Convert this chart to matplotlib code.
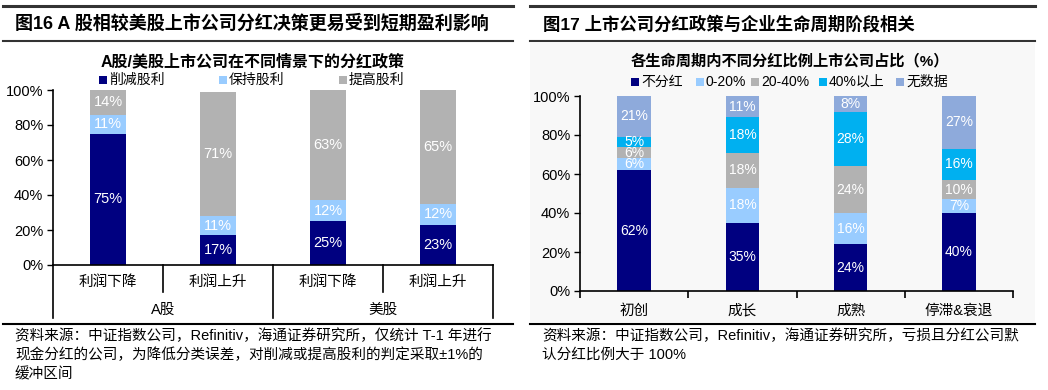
import matplotlib
matplotlib.use('Agg')
import matplotlib.pyplot as plt
from matplotlib.patches import Rectangle
from matplotlib.lines import Line2D

plt.rcParams['font.family'] = ['Liberation Sans', 'Noto Sans CJK SC', 'DejaVu Sans']

W, H = 1048, 390

# left chart: A股 / 美股 dividend policy
left_groups = ['A股', '美股']
left_cats = ['利润下降', '利润上升', '利润下降', '利润上升']
left_series = ['削减股利', '保持股利', '提高股利']
cut_div = [75, 17, 25, 23]
keep_div = [11, 11, 12, 12]
raise_div = [14, 71, 63, 65]
left_colors = ['#000080', '#99ccff', '#b2b2b2']

# right chart: life cycle stages
stages = ['初创', '成长', '成熟', '停滞&衰退']
right_series = ['不分红', '0-20%', '20-40%', '40%以上', '无数据']
no_div = [62, 35, 24, 40]
pct_0_20 = [6, 18, 16, 7]
pct_20_40 = [6, 18, 24, 10]
pct_40_up = [5, 18, 28, 16]
no_data = [21, 11, 8, 27]
right_colors = ['#000080', '#99ccff', '#b2b2b2', '#00b0f0', '#8eaadb']

yticks = [0, 20, 40, 60, 80, 100]


def fx(x):
    return x / W


def fy(y):
    return 1 - y / H


def rect(x0, y0, x1, y1):
    return [x0 / W, 1 - y1 / H, (x1 - x0) / W, (y1 - y0) / H]


fig = plt.figure(figsize=(W / 100, H / 100), dpi=100)


def hline(x0, x1, y, lw, color='#333333'):
    fig.add_artist(Line2D([fx(x0), fx(x1)], [fy(y), fy(y)], lw=lw, color=color))


def legend_row(names, colors, xs, y, fs=10):
    for name, c, x in zip(names, colors, xs):
        fig.add_artist(Rectangle((fx(x - 4), fy(y + 4)), 8 / W, 8 / H,
                                 transform=fig.transFigure, color=c, lw=0))
        fig.text(fx(x + 6), fy(y), name, fontsize=fs, va='center', ha='left')


def stacked(ax, series, colors, width, fs=10.5):
    x = list(range(len(series[0])))
    bottom = [0] * len(x)
    for vals, c in zip(series, colors):
        bars = ax.bar(x, vals, width, bottom=bottom, color=c, lw=0)
        for b, v, bt in zip(bars, vals, bottom):
            ax.text(b.get_x() + b.get_width() / 2, bt + v / 2, f'{v}%',
                    ha='center', va='center', color='white', fontsize=fs)
        bottom = [a + v for a, v in zip(bottom, vals)]
    ax.set_xlim(-0.5, len(x) - 0.5)
    ax.set_ylim(0, 100)
    ax.set_yticks(yticks)
    ax.set_yticklabels([f'{t}%' for t in yticks], fontsize=10.5)
    ax.tick_params(axis='y', direction='out', length=4, width=1, pad=3)
    for s in ['top', 'right']:
        ax.spines[s].set_visible(False)
    ax.spines['left'].set_linewidth(1.2)
    ax.spines['bottom'].set_linewidth(1.2)
    ax.patch.set_alpha(0)
    return x


# ---- panel frames ----
bg = Rectangle((fx(530), fy(322)), (1035 - 530) / W, (322 - 43) / H,
               transform=fig.transFigure, color='#f8f8f8', lw=0, zorder=-10)
fig.add_artist(bg)
hline(3, 513, 6, 2.2)
hline(530, 1035, 6, 2.2)
hline(3, 513, 41, 1.5)
hline(530, 1035, 41, 1.5)
hline(3, 513, 324, 1.5, 'black')
hline(530, 1035, 324, 1.5, 'black')

fig.text(fx(15), fy(24), '图16 A 股相较美股上市公司分红决策更易受到短期盈利影响',
         fontsize=13, fontweight='bold', va='center', ha='left')
fig.text(fx(543), fy(24), '图17 上市公司分红政策与企业生命周期阶段相关',
         fontsize=12.5, fontweight='bold', va='center', ha='left')

# ---- left chart ----
fig.text(fx(253), fy(61), 'A股/美股上市公司在不同情景下的分红政策',
         fontsize=11.5, fontweight='bold', va='center', ha='center')
legend_row(left_series, left_colors, [103, 223, 343], 80)

axl = fig.add_axes(rect(53, 90, 493, 265))
xl = stacked(axl, [cut_div, keep_div, raise_div], left_colors, 0.32)
axl.set_xticks([])
tr = axl.get_xaxis_transform()
for b in [-0.5, 1.5, 3.5]:
    axl.plot([b, b], [0, -0.303], transform=tr, color='black', lw=1.2, clip_on=False)
for b in [0.5, 2.5]:
    axl.plot([b, b], [0, -0.154], transform=tr, color='black', lw=1.2, clip_on=False)
for i, name in zip(xl, left_cats):
    axl.text(i, -0.097, name, transform=tr, ha='center', va='center', fontsize=10.5)
for i, name in enumerate(left_groups):
    axl.text(2 * i + 0.5, -0.257, name, transform=tr, ha='center', va='center', fontsize=10.5)

fig.text(fx(15), fy(336), '资料来源：中证指数公司，Refinitiv，海通证券研究所，仅统计 T-1 年进行',
         fontsize=10.5, va='center', ha='left')
fig.text(fx(15), fy(355), '现金分红的公司，为降低分类误差，对削减或提高股利的判定采取±1%的',
         fontsize=10.5, va='center', ha='left')
fig.text(fx(15), fy(374), '缓冲区间', fontsize=10.5, va='center', ha='left')

# ---- right chart ----
fig.text(fx(790), fy(61), '各生命周期内不同分红比例上市公司占比（%）',
         fontsize=11, fontweight='bold', va='center', ha='center')
legend_row(right_series, right_colors, [635, 700, 755, 823, 900], 82)

axr = fig.add_axes(rect(580, 96, 1013, 291))
xr = stacked(axr, [no_div, pct_0_20, pct_20_40, pct_40_up, no_data], right_colors, 0.31, fs=10)
axr.set_xticks(xr)
axr.set_xticklabels(stages, fontsize=10.5)
axr.tick_params(axis='x', which='major', length=0, pad=9)
axr.set_xticks([-0.5, 0.5, 1.5, 2.5, 3.5], minor=True)
axr.tick_params(axis='x', which='minor', direction='out', length=5, width=1.2)

fig.text(fx(542), fy(336), '资料来源：中证指数公司，Refinitiv，海通证券研究所，亏损且分红公司默',
         fontsize=10.5, va='center', ha='left')
fig.text(fx(542), fy(355), '认分红比例大于 100%', fontsize=10.5, va='center', ha='left')

fig.savefig('out.png', dpi=100)
